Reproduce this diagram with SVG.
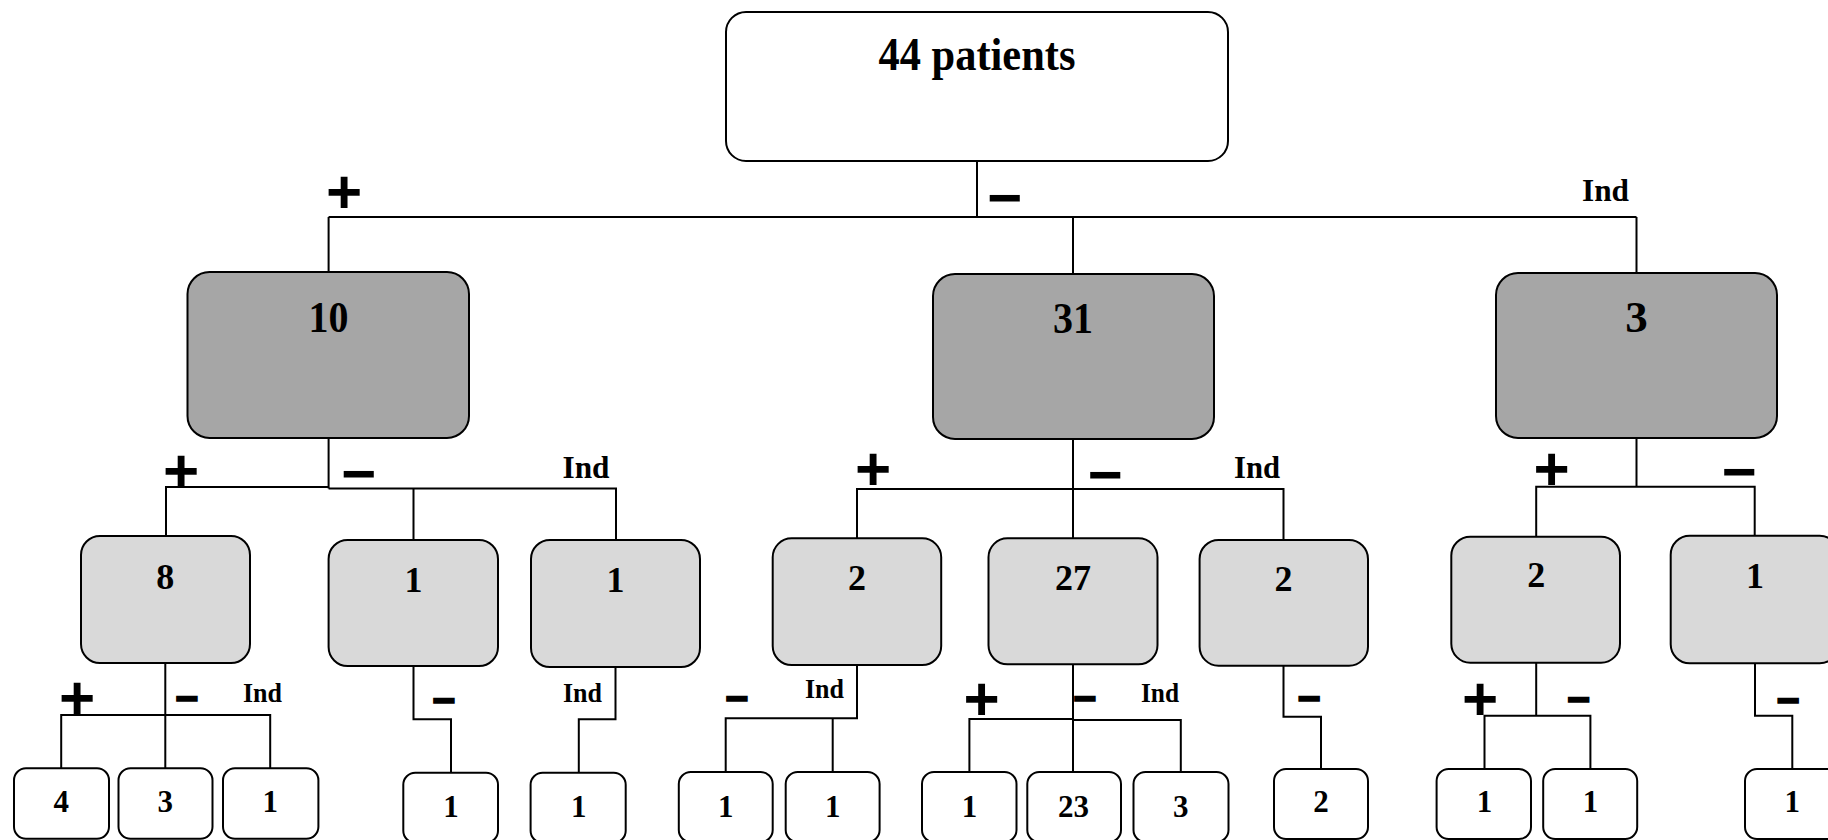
<svg xmlns="http://www.w3.org/2000/svg" width="1828" height="840" viewBox="0 0 1828 840">
<style>
.box{stroke:#000;stroke-width:2}
.l0{fill:#fff}
.l1{fill:#A6A6A6}
.l2{fill:#D9D9D9}
.lf{fill:#fff}
.t{font-family:"Liberation Serif","Times New Roman",serif;font-weight:bold;fill:#000;text-anchor:middle}
.t1{font-size:45px}
.t2{font-size:36px}
.t3{font-size:31px}
.ind{font-family:"Liberation Serif","Times New Roman",serif;font-weight:bold;fill:#000}
.sg{font-family:"Liberation Sans",Arial,sans-serif;font-weight:bold;fill:#000;text-anchor:middle}
.pl{font-size:62px}
.mi{font-size:60px}
.ms{font-size:40px;stroke:#000;stroke-width:1.5}
.c{fill:none;stroke:#000;stroke-width:2}
</style>
<rect width="1828" height="840" fill="#fff"/>
<g id="connectors" class="c">
<path d="M977,161V217M328.6,217H1636.5M328.6,217V272M1073,217V274M1636.5,217V273"/>
<path d="M328.6,438V488.5M166,536V487H328.6M328.6,488.5H616V540M413.5,488.5V540"/>
<path d="M1073,439V538M857,538V489H1283.5V540"/>
<path d="M1636.5,437.7V486.7M1536.2,536.7V486.7H1754.7V535.7"/>
<path d="M165.3,662.7V768M61.2,768V715H270.2V768"/>
<path d="M413.5,666V719.3H451V772.7"/>
<path d="M615.5,667V719.3H578.8V772.7"/>
<path d="M857,665V718.3H725.7V772M832.7,718.3V772"/>
<path d="M1073,664.3V772M969.4,772V719H1073M1073,720H1180.8V772"/>
<path d="M1283.5,665.7V716.7H1321V769"/>
<path d="M1536.2,662.7V715.7M1484.5,769V715.7H1590.4V769"/>
<path d="M1755,663.3V715.7H1792.3V769"/>
</g>
<g id="edge-labels">
<text class="sg pl" x="344" y="212.5">+</text>
<text class="sg mi" x="1004.5" y="218">−</text>
<text class="ind" x="1582" y="201" font-size="32" textLength="47" lengthAdjust="spacingAndGlyphs">Ind</text>
<text class="sg pl" x="181" y="492">+</text>
<text class="sg mi" x="358.5" y="493.5">−</text>
<text class="ind" x="562.5" y="478" font-size="31" textLength="47" lengthAdjust="spacingAndGlyphs">Ind</text>
<text class="sg pl" x="873" y="490">+</text>
<text class="sg mi" x="1105" y="494.5">−</text>
<text class="ind" x="1234" y="478" font-size="31" textLength="46" lengthAdjust="spacingAndGlyphs">Ind</text>
<text class="sg pl" x="1551.5" y="490">+</text>
<text class="sg mi" x="1739" y="492">−</text>
<text class="sg pl" x="77" y="719">+</text>
<text class="sg ms" x="186.8" y="711.6">−</text>
<text class="ind" x="243" y="701.7" font-size="27" textLength="39" lengthAdjust="spacingAndGlyphs">Ind</text>
<text class="sg ms" x="443.8" y="713.6">−</text>
<text class="ind" x="563" y="701.7" font-size="27" textLength="39" lengthAdjust="spacingAndGlyphs">Ind</text>
<text class="sg ms" x="736.8" y="712">−</text>
<text class="ind" x="805" y="698" font-size="27" textLength="39" lengthAdjust="spacingAndGlyphs">Ind</text>
<text class="sg pl" x="981.5" y="719.5">+</text>
<text class="sg ms" x="1084.7" y="712">−</text>
<text class="ind" x="1141" y="701.7" font-size="27" textLength="38" lengthAdjust="spacingAndGlyphs">Ind</text>
<text class="sg ms" x="1309" y="712">−</text>
<text class="sg pl" x="1480" y="720">+</text>
<text class="sg ms" x="1578.5" y="712.6">−</text>
<text class="sg ms" x="1788" y="713.6">−</text>
</g>
<g id="n-root"><rect class="box l0" x="726" y="12" width="502" height="149" rx="20"/><text class="t" font-size="46" x="977" y="70" textLength="197" lengthAdjust="spacingAndGlyphs">44 patients</text></g>
<g id="n-10"><rect class="box l1" x="187.5" y="272" width="281.5" height="166" rx="22"/><text class="t t1" x="328.6" y="332" textLength="40" lengthAdjust="spacingAndGlyphs">10</text></g>
<g id="n-31"><rect class="box l1" x="933" y="274" width="281" height="165" rx="22"/><text class="t t1" x="1073" y="333" textLength="40" lengthAdjust="spacingAndGlyphs">31</text></g>
<g id="n-3"><rect class="box l1" x="1496" y="273" width="281" height="165" rx="22"/><text class="t t1" x="1636.5" y="332">3</text></g>
<g id="n-8"><rect class="box l2" x="81" y="536" width="169" height="127" rx="19"/><text class="t t2" x="165.3" y="588.5">8</text></g>
<g id="n-1a"><rect class="box l2" x="328.6" y="540" width="169.4" height="126" rx="19"/><text class="t t2" x="413.5" y="591.7">1</text></g>
<g id="n-1b"><rect class="box l2" x="531" y="540" width="169" height="127" rx="19"/><text class="t t2" x="615.5" y="591.7">1</text></g>
<g id="n-2a"><rect class="box l2" x="772.7" y="538.3" width="168.5" height="126.7" rx="19"/><text class="t t2" x="857" y="590">2</text></g>
<g id="n-27"><rect class="box l2" x="988.5" y="538.3" width="169" height="126" rx="19"/><text class="t t2" x="1073" y="590">27</text></g>
<g id="n-2b"><rect class="box l2" x="1199.6" y="540" width="168.4" height="125.7" rx="19"/><text class="t t2" x="1283.5" y="591">2</text></g>
<g id="n-2c"><rect class="box l2" x="1451.3" y="536.7" width="168.7" height="126" rx="19"/><text class="t t2" x="1536.2" y="587">2</text></g>
<g id="n-1c"><rect class="box l2" x="1670.7" y="535.7" width="168" height="127.6" rx="19"/><text class="t t2" x="1755" y="587.7">1</text></g>
<g id="n-4"><rect class="box lf" x="14" y="768.3" width="95" height="70.5" rx="12"/><text class="t t3" x="61.2" y="811.7">4</text></g>
<g id="n-3a"><rect class="box lf" x="118.5" y="768.3" width="94" height="70.5" rx="12"/><text class="t t3" x="165.3" y="811.7">3</text></g>
<g id="n-1d"><rect class="box lf" x="223" y="768.3" width="95.4" height="70.5" rx="12"/><text class="t t3" x="270.2" y="811.7">1</text></g>
<g id="n-1e"><rect class="box lf" x="403.3" y="772.7" width="94.7" height="70" rx="12"/><text class="t t3" x="451" y="816.7">1</text></g>
<g id="n-1f"><rect class="box lf" x="530.6" y="772.7" width="95.1" height="70" rx="12"/><text class="t t3" x="578.8" y="816.7">1</text></g>
<g id="n-1g"><rect class="box lf" x="678.8" y="772" width="93.9" height="70" rx="12"/><text class="t t3" x="725.7" y="816.7">1</text></g>
<g id="n-1h"><rect class="box lf" x="785.7" y="772" width="93.9" height="70" rx="12"/><text class="t t3" x="832.7" y="816.7">1</text></g>
<g id="n-1i"><rect class="box lf" x="922" y="772" width="94.5" height="70" rx="12"/><text class="t t3" x="969.4" y="816.7">1</text></g>
<g id="n-23"><rect class="box lf" x="1027.3" y="772" width="93.7" height="70" rx="12"/><text class="t t3" x="1073.5" y="816.7">23</text></g>
<g id="n-3b"><rect class="box lf" x="1133.5" y="772" width="95" height="70" rx="12"/><text class="t t3" x="1180.8" y="816.7">3</text></g>
<g id="n-2d"><rect class="box lf" x="1274" y="769" width="94" height="70" rx="12"/><text class="t t3" x="1321" y="811.7">2</text></g>
<g id="n-1j"><rect class="box lf" x="1436.6" y="769" width="94.4" height="70" rx="12"/><text class="t t3" x="1484.5" y="811.7">1</text></g>
<g id="n-1k"><rect class="box lf" x="1543.2" y="769" width="94" height="70" rx="12"/><text class="t t3" x="1590.4" y="811.7">1</text></g>
<g id="n-1l"><rect class="box lf" x="1745" y="769" width="95" height="70" rx="12"/><text class="t t3" x="1792.3" y="811.7">1</text></g>
</svg>
